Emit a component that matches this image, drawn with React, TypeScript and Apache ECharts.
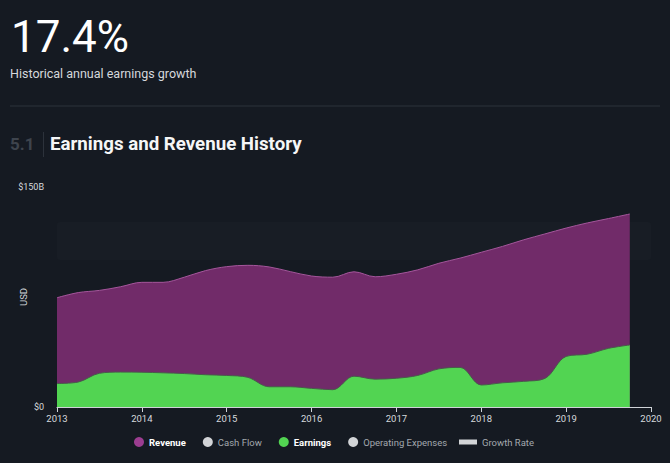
import React, { useEffect, useRef } from "react";
import * as echarts from "echarts";

const quarters = [
  2013, 2013.25, 2013.5, 2013.75,
  2014, 2014.25, 2014.5, 2014.75,
  2015, 2015.25, 2015.5, 2015.75,
  2016, 2016.25, 2016.5, 2016.75,
  2017, 2017.25, 2017.5, 2017.75,
  2018, 2018.25, 2018.5, 2018.75,
  2019, 2019.25, 2019.5, 2019.75,
];

// values in $B
const revenue = [
  74.5, 78, 79.5, 82,
  85, 85, 88.5, 93,
  95.7, 96.6, 95.5, 92.3,
  89.3, 88.5, 92.2, 88.8,
  90.5, 93.5, 98, 101.5,
  105.5, 109.5, 114, 118,
  122, 125.5, 128.5, 131.6,
];

const earnings = [
  16, 17, 23, 23.8,
  23.7, 23.3, 22.8, 22,
  21.5, 20.2, 13.8, 13.8,
  12.7, 11.8, 21, 19,
  19.6, 21.5, 26, 27,
  15, 16.5, 17.5, 19.5,
  34.5, 36, 40, 42.3,
];

const yTicks = [0, 150];
const xYears = [2013, 2014, 2015, 2016, 2017, 2018, 2019, 2020];

const legendCircles = ["Revenue", "Cash Flow", "Earnings", "Operating Expenses"];
const legendBar = ["Growth Rate"];

const BG = "#151a22";
const FONT = "Roboto, 'Noto Sans', sans-serif";

export default function App() {
  const ref = useRef<HTMLDivElement>(null);

  useEffect(() => {
    if (!ref.current) return;
    const chart = echarts.init(ref.current, undefined, { renderer: "svg" });

    const pair = (ys: number[]) => quarters.map((q, i) => [q, ys[i]]);

    const option: any = {
      animation: false,
      backgroundColor: BG,
      textStyle: { fontFamily: FONT },
      grid: { left: 57, right: 19, top: 187, bottom: 56, containLabel: false, outerBoundsMode: "none" },
      xAxis: {
        type: "value",
        min: xYears[0],
        max: xYears[xYears.length - 1],
        interval: 1,
        axisLine: { show: true, lineStyle: { color: "#cfd3d8", width: 1 } },
        axisTick: { show: true, length: 5, lineStyle: { color: "#cfd3d8" } },
        axisLabel: {
          color: "#d6d9dd",
          fontSize: 9.5,
          fontFamily: FONT,
          margin: 6,
          formatter: (v: number) => String(v),
        },
        splitLine: { show: false },
      },
      yAxis: {
        type: "value",
        min: yTicks[0],
        max: yTicks[1],
        interval: yTicks[1] - yTicks[0],
        name: "USD",
        nameLocation: "middle",
        nameRotate: 90,
        nameGap: 29,
        nameMoveOverlap: false,
        nameTextStyle: { color: "#d6d9dd", fontSize: 9.5, fontFamily: FONT },
        axisLine: { show: false },
        axisTick: { show: false },
        splitLine: { show: false },
        axisLabel: {
          color: "#d6d9dd",
          fontSize: 9,
          fontFamily: FONT,
          margin: 13,
          formatter: (v: number) => (v === 0 ? "$0" : `$${v}B`),
        },
      },
      legend: [
        {
          left: 134,
          top: 437,
          padding: 0,
          itemWidth: 10,
          itemHeight: 10,
          itemGap: 17,
          selectedMode: false,
          data: [
            { name: legendCircles[0], icon: "circle", itemStyle: { color: "#9b3d90" }, textStyle: { color: "#ffffff", fontWeight: "bold" } },
            { name: legendCircles[1], icon: "circle", itemStyle: { color: "#d2d4d7" }, textStyle: { color: "#a3a8ae" } },
            { name: legendCircles[2], icon: "circle", itemStyle: { color: "#52d452" }, textStyle: { color: "#ffffff", fontWeight: "bold" } },
            { name: legendCircles[3], icon: "circle", itemStyle: { color: "#d2d4d7" }, textStyle: { color: "#a3a8ae" } },
          ],
          textStyle: { fontSize: 9.5, fontFamily: FONT },
        },
        {
          left: 459,
          top: 437,
          padding: 0,
          itemWidth: 18,
          itemHeight: 5,
          selectedMode: false,
          data: [
            { name: legendBar[0], icon: "rect", itemStyle: { color: "#d2d4d7" }, textStyle: { color: "#a3a8ae" } },
          ],
          textStyle: { fontSize: 9.5, fontFamily: FONT },
        },
      ],
      graphic: [
        { type: "rect", z: 0, shape: { x: 57, y: 222, width: 594, height: 38, r: 3 }, style: { fill: "#181d25" } },
        {
          type: "text", x: 11, y: 37,
          style: { text: "17.4%", fill: "#ffffff", fontSize: 44, fontFamily: FONT, fontWeight: 400, textAlign: "left", textVerticalAlign: "middle", verticalAlign: "middle" },
        },
        {
          type: "text", x: 10, y: 73,
          style: { text: "Historical annual earnings growth", fill: "#d5d8dc", fontSize: 12.5, fontFamily: FONT, textAlign: "left", textVerticalAlign: "middle", verticalAlign: "middle" },
        },
        { type: "rect", shape: { x: 10, y: 105.5, width: 650, height: 1 }, style: { fill: "#2c323b" } },
        {
          type: "text", x: 10, y: 144,
          style: { text: "5.1", fill: "#3e444d", fontSize: 17, fontWeight: "bold", fontFamily: FONT, textAlign: "left", textVerticalAlign: "middle", verticalAlign: "middle" },
        },
        { type: "rect", shape: { x: 43, y: 132, width: 1, height: 25 }, style: { fill: "#2c323b" } },
        {
          type: "text", x: 50, y: 144,
          style: { text: "Earnings and Revenue History", fill: "#f5f6f7", fontSize: 18.7, fontWeight: "bold", fontFamily: FONT, textAlign: "left", textVerticalAlign: "middle", verticalAlign: "middle" },
        },
      ],
      series: [
        {
          name: "Revenue",
          type: "line",
          data: pair(revenue),
          smooth: 0.35,
          showSymbol: false,
          z: 2,
          lineStyle: { color: "#a4569b", width: 1 },
          itemStyle: { color: "#9b3d90" },
          areaStyle: { color: "#712b69", opacity: 1 },
        },
        {
          name: "Cash Flow",
          type: "line",
          data: [],
          itemStyle: { color: "#d2d4d7" },
        },
        {
          name: "Earnings",
          type: "line",
          data: pair(earnings),
          smooth: 0.35,
          showSymbol: false,
          z: 3,
          lineStyle: { color: "#4a5a4c", width: 1 },
          itemStyle: { color: "#52d452" },
          areaStyle: { color: "#52d452", opacity: 1 },
        },
        {
          name: "Operating Expenses",
          type: "line",
          data: [],
          itemStyle: { color: "#d2d4d7" },
        },
        {
          name: "Growth Rate",
          type: "line",
          data: [],
          itemStyle: { color: "#d2d4d7" },
        },
      ],
    };

    chart.setOption(option);
    return () => chart.dispose();
  }, []);

  return (
    <div
      ref={ref}
      style={{ position: "absolute", left: 0, top: 0, width: 670, height: 463, background: BG }}
    />
  );
}
